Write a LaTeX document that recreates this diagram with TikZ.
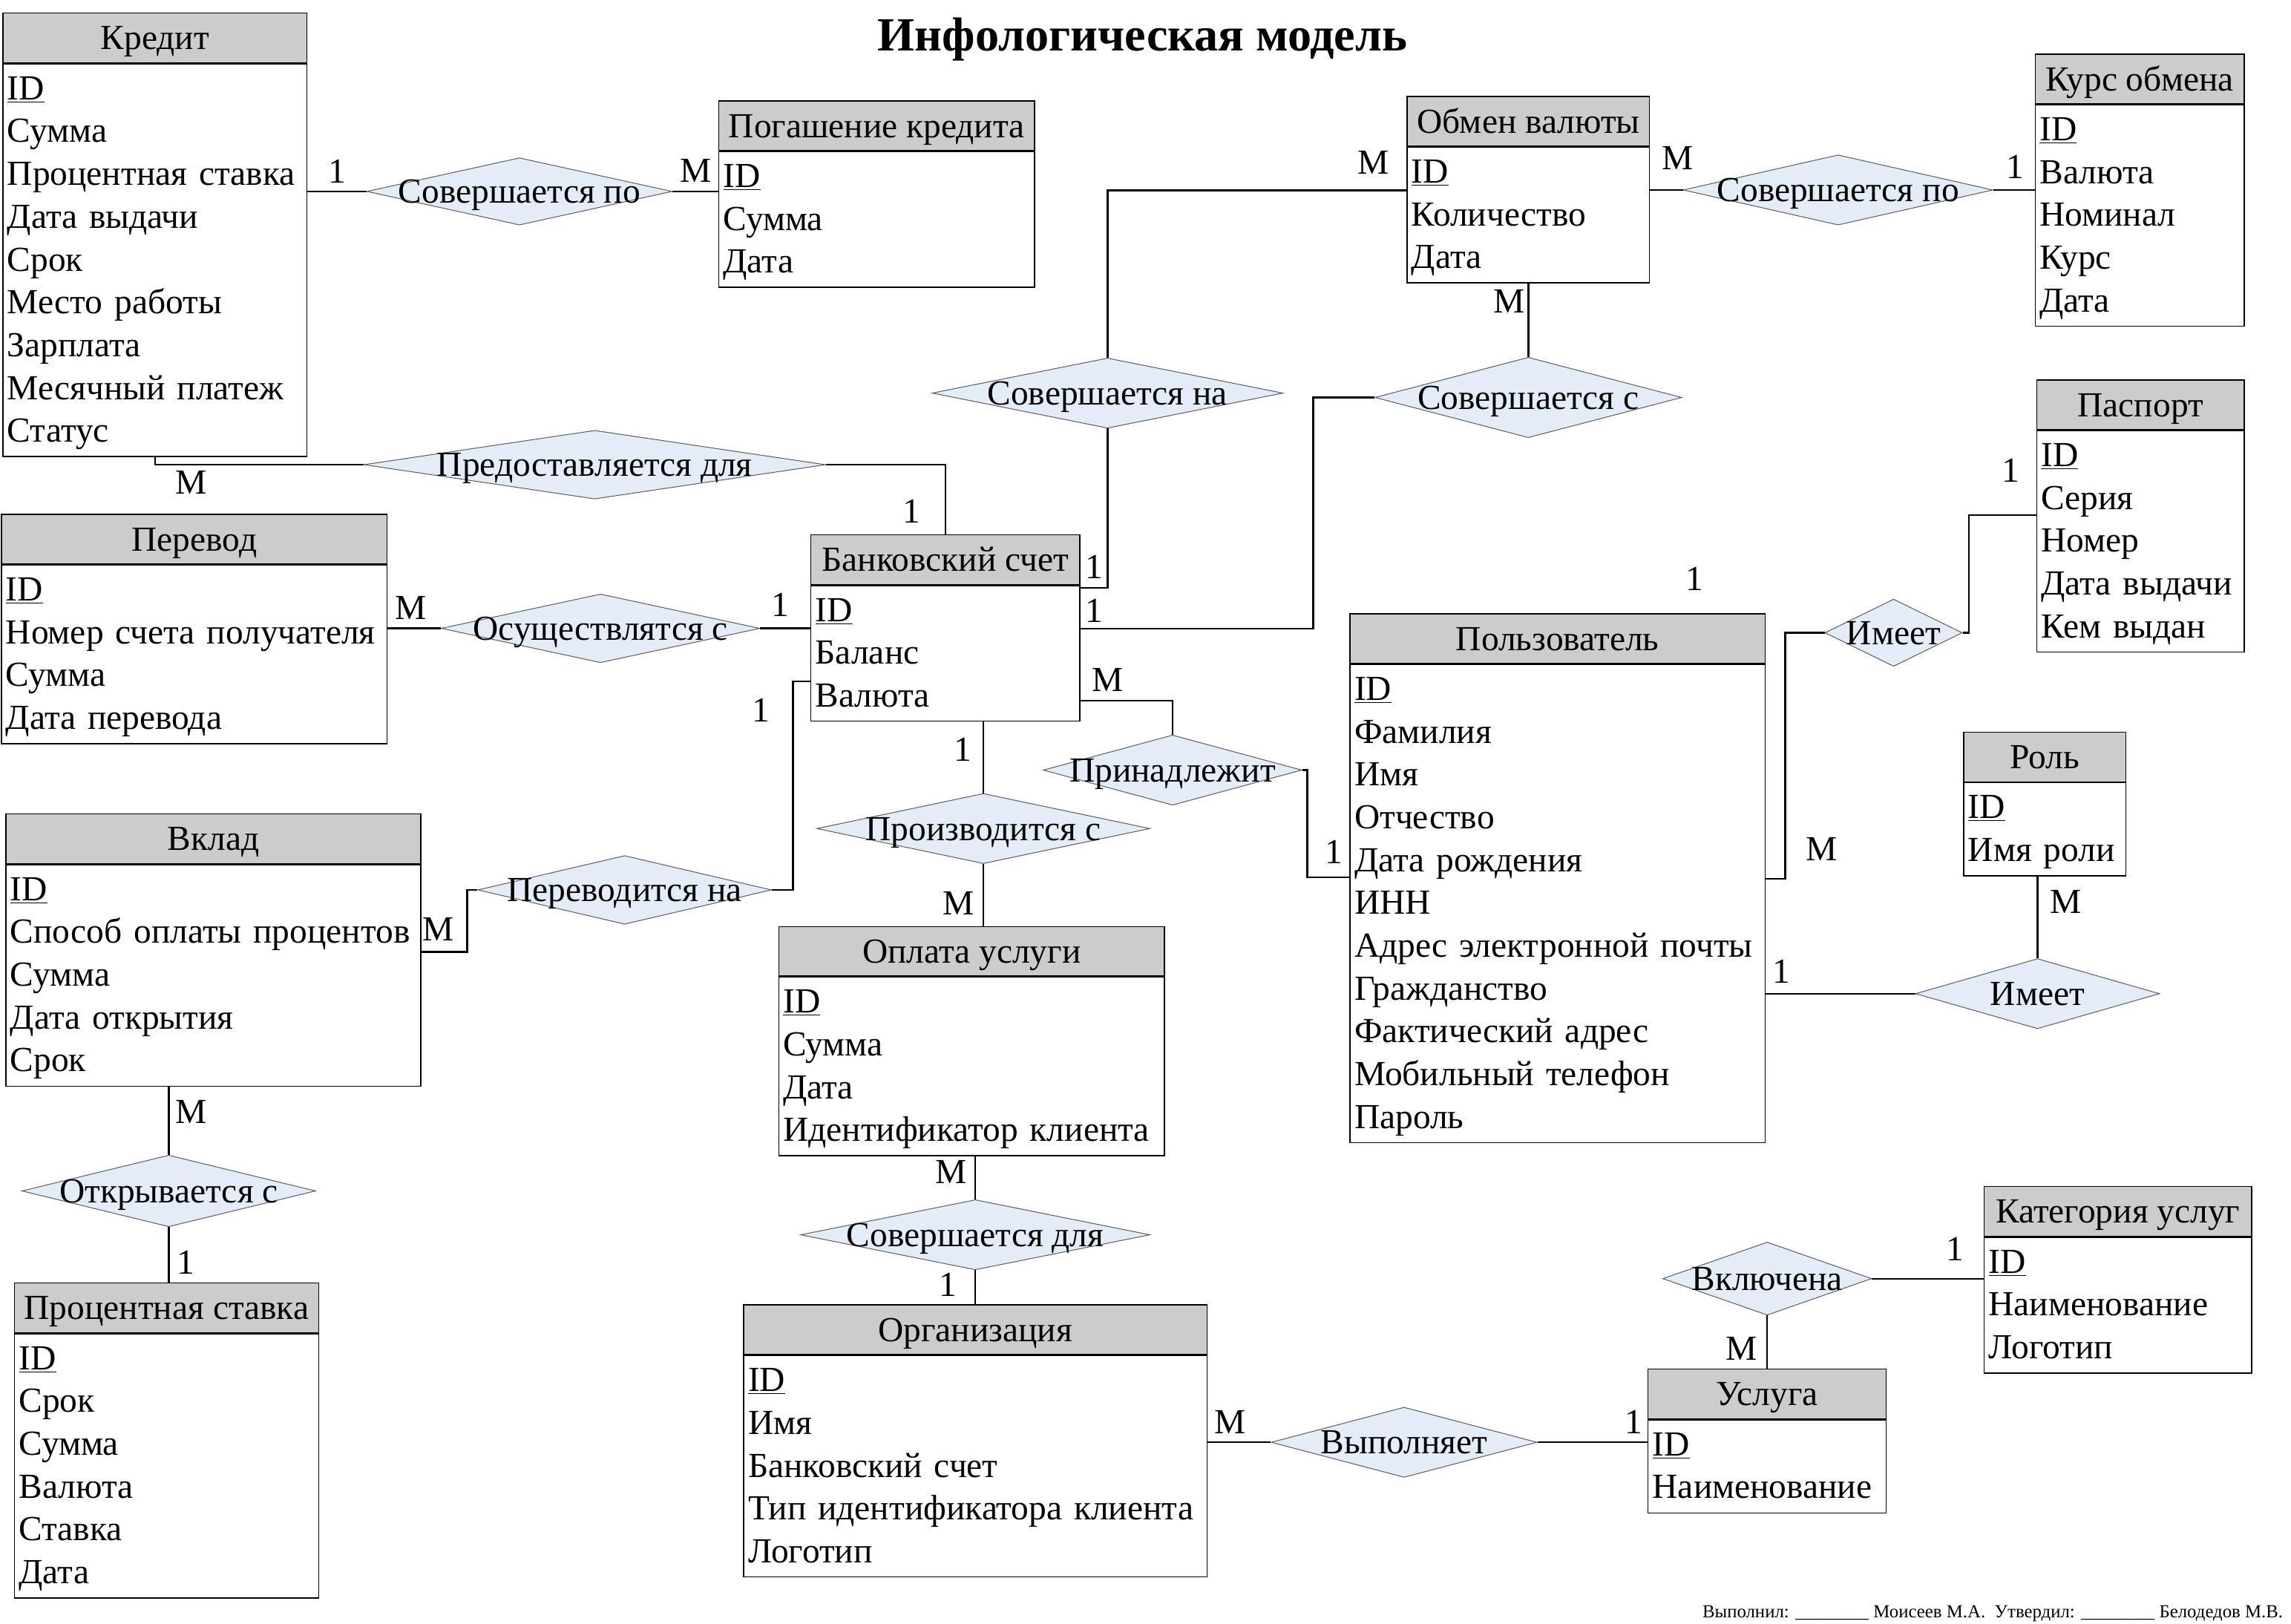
\documentclass[tikz,border=0pt]{standalone}
\usepackage{fontspec}
\setmainfont{Liberation Serif}
\usepackage{tikz}
\usetikzlibrary{shapes,calc,positioning}
\definecolor{headgray}{RGB}{204,204,204}
\definecolor{relfill}{RGB}{228,236,247}

\begin{document}
\begin{tikzpicture}[x=1pt, y=-1pt,
    every node/.style={font=\fontsize{24.1}{29.3}\selectfont},
    ehead/.style={draw, fill=headgray, line width=0.7pt, minimum height=34pt, inner sep=0pt,
      text height=16pt, text depth=0pt},
    eattr/.style 2 args={draw, fill=white, line width=0.7pt, below=0pt of #1, text width=#2-6pt,
      inner xsep=3pt, inner ysep=2.5pt, align=left,
      execute at begin node=\rule{0pt}{22pt}, execute at end node=\rule[-7.3pt]{0pt}{0pt}},
    rel/.style 2 args={diamond, draw=black!65, fill=relfill, line width=0.5pt, inner sep=0pt,
      text height=16pt, text depth=0pt, minimum width=#1, minimum height=#2},
    card/.style={inner sep=0pt},
    link/.style={line width=1.2pt}]
  \useasboundingbox (0,0) rectangle (1568,1111);

  \node[font=\fontsize{32.6}{40}\selectfont\bfseries] (title) at (782,27) {Инфологическая модель};

  \node[ehead, minimum width=208pt] (kredit) at (106,26) {Кредит};
  \node[eattr={kredit}{208pt}] (kredit-a) {\underline{ID}\\Сумма\\Процентная ставка\\Дата выдачи\\Срок\\Место работы\\Зарплата\\Месячный платеж\\Статус};
  \node[ehead, minimum width=216pt] (pogash) at (600,86) {Погашение кредита};
  \node[eattr={pogash}{216pt}] (pogash-a) {\underline{ID}\\Сумма\\Дата};
  \node[ehead, minimum width=166pt] (obmen) at (1046,83) {Обмен валюты};
  \node[eattr={obmen}{166pt}] (obmen-a) {\underline{ID}\\Количество\\Дата};
  \node[ehead, minimum width=143pt] (kurs) at (1464.5,54) {Курс обмена};
  \node[eattr={kurs}{143pt}] (kurs-a) {\underline{ID}\\Валюта\\Номинал\\Курс\\Дата};
  \node[ehead, minimum width=142pt] (pasport) at (1465,277) {Паспорт};
  \node[eattr={pasport}{142pt}] (pasport-a) {\underline{ID}\\Серия\\Номер\\Дата выдачи\\Кем выдан};
  \node[ehead, minimum width=264pt] (perevod) at (133,369) {Перевод};
  \node[eattr={perevod}{264pt}] (perevod-a) {\underline{ID}\\Номер счета получателя\\Сумма\\Дата перевода};
  \node[ehead, minimum width=184pt] (schet) at (647,383) {Банковский счет};
  \node[eattr={schet}{184pt}] (schet-a) {\underline{ID}\\Баланс\\Валюта};
  \node[ehead, minimum width=284pt] (polz) at (1066,437) {Пользователь};
  \node[eattr={polz}{284pt}] (polz-a) {\underline{ID}\\Фамилия\\Имя\\Отчество\\Дата рождения\\ИНН\\Адрес электронной почты\\Гражданство\\Фактический адрес\\Мобильный телефон\\Пароль};
  \node[ehead, minimum width=111pt] (rol) at (1399.5,518) {Роль};
  \node[eattr={rol}{111pt}] (rol-a) {\underline{ID}\\Имя роли};
  \node[ehead, minimum width=284pt] (vklad) at (146,574) {Вклад};
  \node[eattr={vklad}{284pt}] (vklad-a) {\underline{ID}\\Способ оплаты процентов\\Сумма\\Дата открытия\\Срок};
  \node[ehead, minimum width=264pt] (oplata) at (665,651) {Оплата услуги};
  \node[eattr={oplata}{264pt}] (oplata-a) {\underline{ID}\\Сумма\\Дата\\Идентификатор клиента};
  \node[ehead, minimum width=208pt] (stavka) at (114,895) {Процентная ставка};
  \node[eattr={stavka}{208pt}] (stavka-a) {\underline{ID}\\Срок\\Сумма\\Валюта\\Ставка\\Дата};
  \node[ehead, minimum width=317pt] (org) at (667.5,910) {Организация};
  \node[eattr={org}{317pt}] (org-a) {\underline{ID}\\Имя\\Банковский счет\\Тип идентификатора клиента\\Логотип};
  \node[ehead, minimum width=183pt] (kateg) at (1449.5,829) {Категория услуг};
  \node[eattr={kateg}{183pt}] (kateg-a) {\underline{ID}\\Наименование\\Логотип};
  \node[ehead, minimum width=163pt] (usluga) at (1209.5,954) {Услуга};
  \node[eattr={usluga}{163pt}] (usluga-a) {\underline{ID}\\Наименование};

  \node[rel={209pt}{46pt}] (sovpo1) at (355.5,131) {\makebox[0pt]{Совершается по}};
  \node[rel={316pt}{47pt}] (predost) at (407,318) {\makebox[0pt]{Предоставляется для}};
  \node[rel={240pt}{48pt}] (sovna) at (758,269) {\makebox[0pt]{Совершается на}};
  \node[rel={210pt}{55pt}] (sovs) at (1046,272) {\makebox[0pt]{Совершается с}};
  \node[rel={212pt}{48pt}] (sovpo2) at (1258,130) {\makebox[0pt]{Совершается по}};
  \node[rel={218pt}{47pt}] (osush) at (411,430) {\makebox[0pt]{Осуществлятся с}};
  \node[rel={94pt}{46pt}] (imeet1) at (1296,433) {\makebox[0pt]{Имеет}};
  \node[rel={177pt}{48pt}] (prinad) at (802.5,527) {\makebox[0pt]{Принадлежит}};
  \node[rel={228pt}{48pt}] (proizv) at (673,567) {\makebox[0pt]{Производится с}};
  \node[rel={201pt}{47pt}] (perev) at (427.5,609) {\makebox[0pt]{Переводится на}};
  \node[rel={167pt}{48pt}] (imeet2) at (1394.5,680) {\makebox[0pt]{Имеет}};
  \node[rel={201pt}{49pt}] (otkr) at (115.5,815) {\makebox[0pt]{Открывается с}};
  \node[rel={239pt}{48pt}] (sovdlya) at (667.5,845) {\makebox[0pt]{Совершается для}};
  \node[rel={143pt}{50pt}] (vkl) at (1209.5,875) {\makebox[0pt]{Включена}};
  \node[rel={182pt}{48pt}] (vypoln) at (961,987) {\makebox[0pt]{Выполняет}};

  \draw[link] (kredit-a.east |- sovpo1) -- (sovpo1.west) (sovpo1.east) -- (pogash-a.west |- sovpo1);
  \draw[link] (kredit-a.south) |- (predost.west) (predost.east) -| (schet.north);
  \draw[link] ([yshift=-30pt]obmen-a.north west) -| (sovna.north) (sovna.south) |- ([yshift=-2pt]schet-a.north east);
  \draw[link] ([yshift=-30pt]schet-a.north east) -| ($(sovs.west)+(-42,0)$) -- (sovs.west) (sovs.north) -- (sovs.north |- obmen-a.south);
  \draw[link] (obmen-a.east |- sovpo2) -- (sovpo2.west) (sovpo2.east) -- (kurs-a.west |- sovpo2);
  \draw[link] (perevod-a.east |- osush) -- (osush.west) (osush.east) -- (schet-a.west |- osush);
  \draw[link] ([yshift=-60pt]vklad-a.north east) -| ([xshift=-7pt]perev.west) -- (perev.west)
    (perev.east) -| ([xshift=-12pt, yshift=-66pt]schet-a.north west) -- ([yshift=-66pt]schet-a.north west);
  \draw[link] (proizv.north) -- (proizv.north |- schet-a.south) (proizv.south) -- (proizv.south |- oplata.north);
  \draw[link] ([yshift=-79pt]schet-a.north east) -| (prinad.north)
    (prinad.east) -| ([xshift=-29pt, yshift=-146pt]polz-a.north west) -- ([yshift=-146pt]polz-a.north west);
  \draw[link] ([yshift=-147pt]polz-a.north east) -| ([xshift=-27pt]imeet1.west) -- (imeet1.west)
    (imeet1.east) -| ([xshift=-46pt, yshift=-58pt]pasport-a.north west) -- ([yshift=-58pt]pasport-a.north west);
  \draw[link] (polz-a.east |- imeet2) -- (imeet2.west) (imeet2.north) -- (imeet2.north |- rol-a.south);
  \draw[link] (otkr.north) -- (otkr.north |- vklad-a.south) (otkr.south) -- (otkr.south |- stavka.north);
  \draw[link] (sovdlya.north) -- (sovdlya.north |- oplata-a.south) (sovdlya.south) -- (sovdlya.south |- org.north);
  \draw[link] (org-a.east |- vypoln) -- (vypoln.west) (vypoln.east) -- (usluga-a.west |- vypoln);
  \draw[link] (vkl.east) -- (kateg-a.west |- vkl) (vkl.south) -- (vkl.south |- usluga.north);

  \node[card] (c1) at (231,117) {1};
  \node[card] (c2) at (476,117) {M};
  \node[card] (c3) at (131,330) {M};
  \node[card] (c4) at (624,350) {1};
  \node[card] (c5) at (940,111) {M};
  \node[card] (c6) at (749,388) {1};
  \node[card] (c7) at (749,418) {1};
  \node[card] (c8) at (1033,206) {M};
  \node[card] (c9) at (1148,108) {M};
  \node[card] (c10) at (1379,114) {1};
  \node[card] (c11) at (281,416) {M};
  \node[card] (c12) at (534,414) {1};
  \node[card] (c13) at (521,486) {1};
  \node[card] (c14) at (300,636) {M};
  \node[card] (c15) at (659,513) {1};
  \node[card] (c16) at (656,618) {M};
  \node[card] (c17) at (758,465) {M};
  \node[card] (c18) at (913,583) {1};
  \node[card] (c19) at (1247,581) {M};
  \node[card] (c20) at (1376,322) {1};
  \node[card] (c21) at (1160,396) {1};
  \node[card] (c22) at (1219,665) {1};
  \node[card] (c23) at (1414,617) {M};
  \node[card] (c24) at (131,761) {M};
  \node[card] (c25) at (127,864) {1};
  \node[card] (c26) at (651,802) {M};
  \node[card] (c27) at (649,879) {1};
  \node[card] (c28) at (842,973) {M};
  \node[card] (c29) at (1118,973) {1};
  \node[card] (c30) at (1338,855) {1};
  \node[card] (c31) at (1192,923) {M};

  \node[font=\fontsize{12.6}{15}\selectfont, anchor=east] (sign) at (1566,1104)
    {Выполнил: \_\_\_\_\_\_\_\_\ Моисеев М.А.\ \ Утвердил: \_\_\_\_\_\_\_\_\ Белодедов М.В.};
\end{tikzpicture}
\end{document}
